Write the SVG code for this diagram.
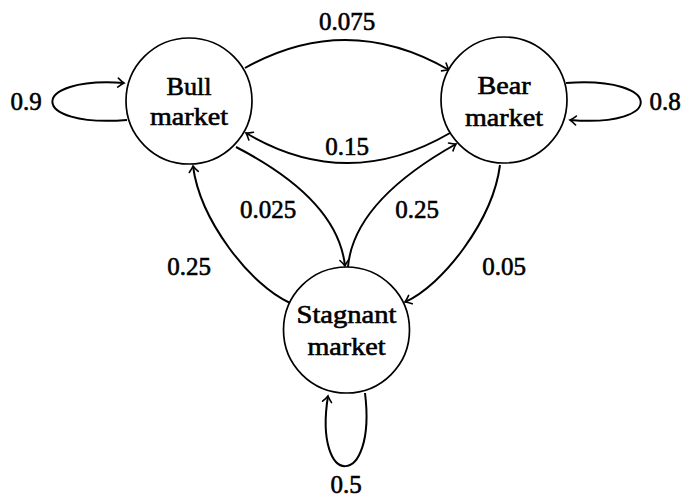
<svg xmlns="http://www.w3.org/2000/svg" width="683" height="497" viewBox="0 0 683 497">
  <style>
    .state { fill: #ffffff; stroke: #000000; stroke-width: 1.7; }
    .name { font-family: "Liberation Serif", "Times New Roman", serif; font-size: 25px; fill: #000000; stroke: #000000; stroke-width: 0.6; text-anchor: middle; }
    .edge { fill: none; stroke: #000000; stroke-width: 2; marker-end: url(#tip); }
    .prob { font-family: "Liberation Serif", "Times New Roman", serif; font-size: 25px; fill: #000000; stroke: #000000; stroke-width: 0.6; text-anchor: middle; }
  </style>
  <defs>
    <marker id="tip" viewBox="-8 -6 10 12" markerWidth="10" markerHeight="12" refX="0" refY="0" orient="auto" markerUnits="userSpaceOnUse">
      <path d="M -6,-4.5 Q -2,-1 0,0 Q -2,1 -6,4.5" fill="none" stroke="#000000" stroke-width="1.6" stroke-linecap="round"/>
    </marker>
  </defs>

  <g id="connectors">
    <!-- self loops -->
    <path class="edge" d="M 127,120 C 28,128 28,76 124,83"/>
    <path class="edge" d="M 566,83 C 665,76 665,128 570,120"/>
    <path class="edge" d="M 365,393 C 377,490 313,490 328,396"/>
    <!-- bull <-> bear -->
    <path class="edge" d="M 245,68 Q 347,11 449,70"/>
    <path class="edge" d="M 450,133 Q 347,193 246,133"/>
    <!-- stagnant <-> bull -->
    <path class="edge" d="M 290,303 C 250,285 200,220 193,166"/>
    <path class="edge" d="M 236,147 C 300,180 340,220 345,266"/>
    <!-- stagnant <-> bear -->
    <path class="edge" d="M 348,267 C 352,220 392,180 456,144"/>
    <path class="edge" d="M 500,165 C 493,220 443,285 405,302"/>
  </g>

  <g id="labels">
    <text class="prob" x="26" y="110">0.9</text>
    <text class="prob" x="665" y="110">0.8</text>
    <text class="prob" x="347" y="30">0.075</text>
    <text class="prob" x="347" y="155">0.15</text>
    <text class="prob" x="268" y="218">0.025</text>
    <text class="prob" x="417" y="218">0.25</text>
    <text class="prob" x="189" y="275">0.25</text>
    <text class="prob" x="504" y="275">0.05</text>
    <text class="prob" x="346" y="493">0.5</text>
  </g>

  <g id="bull">
    <circle class="state" cx="189" cy="101" r="63"/>
    <text class="name" x="189" y="95" textLength="45" lengthAdjust="spacingAndGlyphs">Bull</text>
    <text class="name" x="189" y="125" textLength="78" lengthAdjust="spacingAndGlyphs">market</text>
  </g>

  <g id="bear">
    <circle class="state" cx="504" cy="100" r="63"/>
    <text class="name" x="504" y="94" textLength="53" lengthAdjust="spacingAndGlyphs">Bear</text>
    <text class="name" x="504" y="126" textLength="78" lengthAdjust="spacingAndGlyphs">market</text>
  </g>

  <g id="stagnant">
    <circle class="state" cx="346.5" cy="330" r="63"/>
    <text class="name" x="346.5" y="323" textLength="100" lengthAdjust="spacingAndGlyphs">Stagnant</text>
    <text class="name" x="346.5" y="355" textLength="78" lengthAdjust="spacingAndGlyphs">market</text>
  </g>
</svg>
